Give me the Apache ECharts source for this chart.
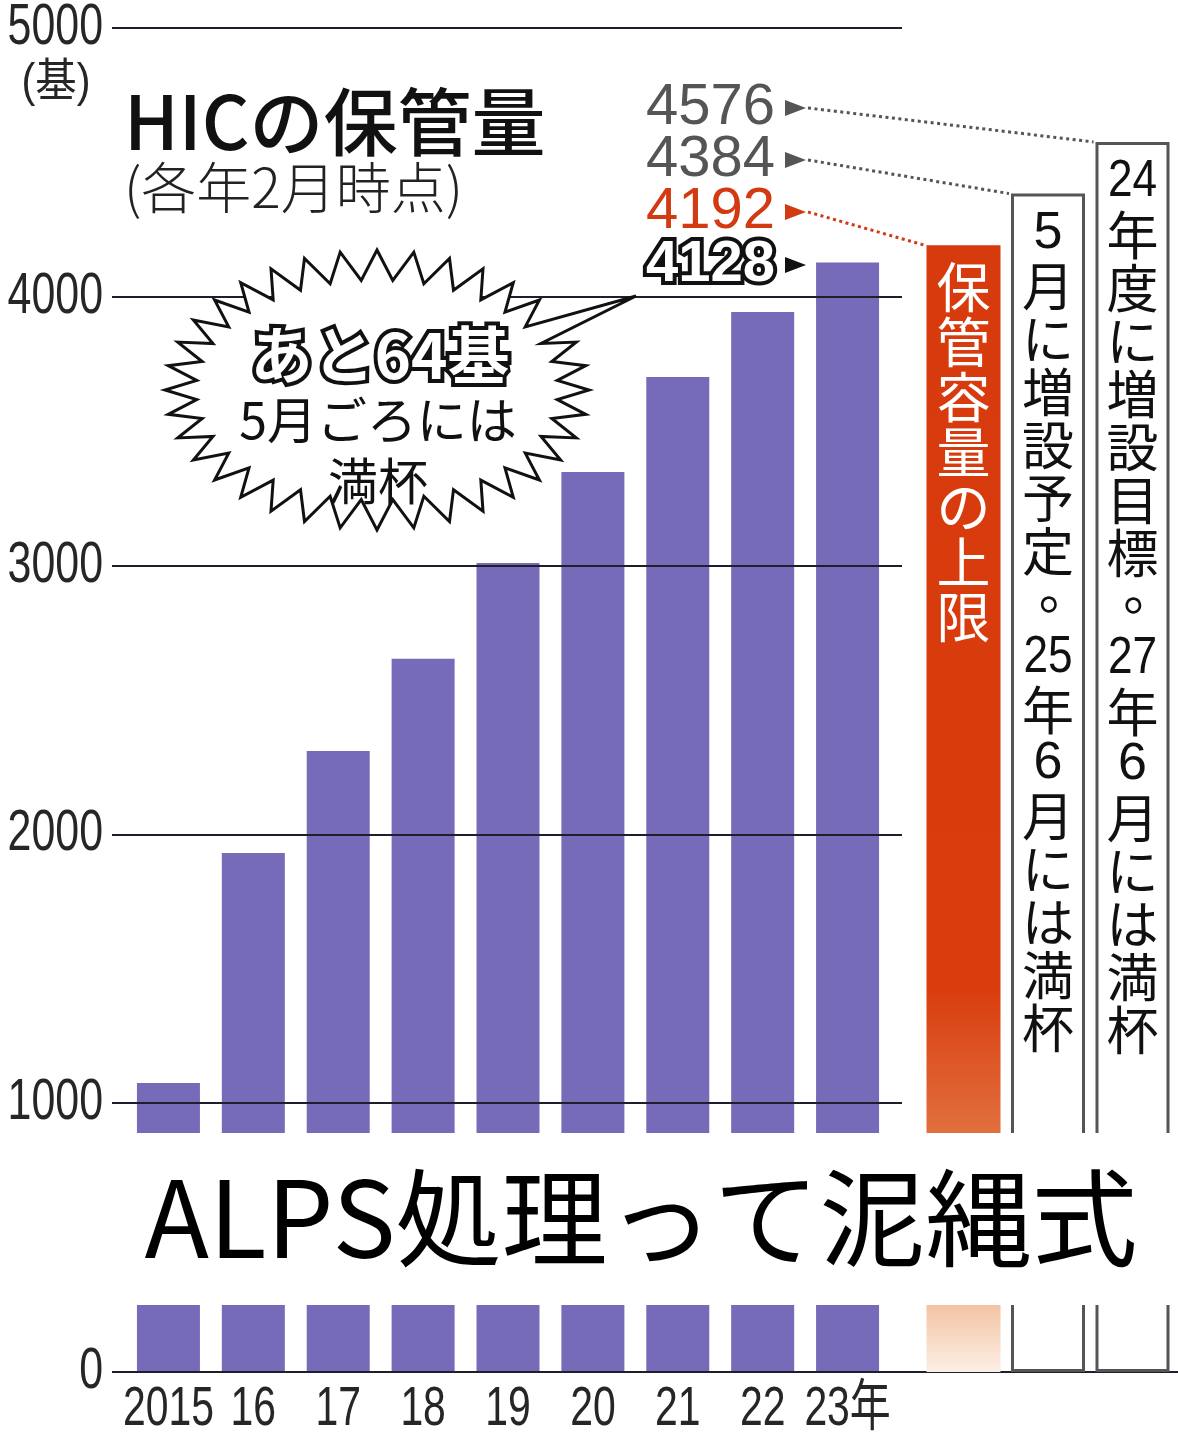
<!DOCTYPE html>
<html>
<head>
<meta charset="utf-8">
<script src="https://cdn.jsdelivr.net/npm/echarts@6/dist/echarts.min.js"></script>
<style>
  html, body { margin: 0; padding: 0; background: #fff; }
  #chart { width: 1178px; height: 1440px; }
</style>
</head>
<body>
<div id="chart"></div>
<script>
// HIC storage volume, as of February each year
const years = ['2015', '16', '17', '18', '19', '20', '21', '22', '23年'];
const stored = [1075, 1931, 2310, 2653, 3010, 3348, 3702, 3943, 4128];

// storage capacity: current limit, planned in May, target for FY2024
const capacityNames = ['保管容量の上限', '5月に増設予定', '24年度に増設目標'];
const capacity = [4192, 4384, 4576];

const yTicks = [0, 1000, 2000, 3000, 4000, 5000];
const yUnit = '(基)';

const titleText = 'HICの保管量';
const subtitleText = '(各年2月時点)';
const bubbleLines = ['あと64基', '5月ごろには', '満杯'];
const bannerText = 'ALPS処理って泥縄式';

// vertical captions inside the capacity columns (one glyph cell per entry)
const capColumns = [
  ['保', '管', '容', '量', 'の', '上', '限'],
  ['5', '月', 'に', '増', '設', '予', '定', '。', '25', '年', '6', '月', 'に', 'は', '満', '杯'],
  ['24', '年', '度', 'に', '増', '設', '目', '標', '。', '27', '年', '6', '月', 'に', 'は', '満', '杯']
];

const NUM_FONT = '"Liberation Sans", "Noto Sans CJK JP", sans-serif';
const JP_FONT = '"Noto Sans CJK JP", sans-serif';
const PURPLE = '#766bb8';
const RED = '#d23a12';
const INK = '#1e1e2c';

const chart = echarts.init(document.getElementById('chart'), null, { renderer: 'canvas' });

const capacityData = capacity.map((v, i) => {
  if (i === 0) {
    return {
      value: v,
      itemStyle: {
        color: new echarts.graphic.LinearGradient(0, 0, 0, 1, [
          { offset: 0, color: '#d73a0c' },
          { offset: 0.66, color: '#d93d0e' },
          { offset: 0.79, color: '#e2703f' },
          { offset: 0.94, color: '#f3c3a3' },
          { offset: 1, color: '#fcefe6' }
        ])
      }
    };
  }
  return { value: v, itemStyle: { color: '#fff', borderColor: '#555', borderWidth: 3 } };
});

const hiddenY = (gi) => ({
  gridIndex: gi, type: 'value', min: 0, max: 5000, show: false
});

chart.setOption({
  animation: false,
  backgroundColor: '#fff',
  grid: [
    { left: 112, top: 28, width: 790, bottom: 68, outerBoundsMode: 'none' },
    { left: 126, top: 28, width: 764, bottom: 68, outerBoundsMode: 'none' },
    { left: 921.25, top: 28, width: 253.5, bottom: 68, outerBoundsMode: 'none' },
    { left: 902, top: 28, right: 0, bottom: 68, outerBoundsMode: 'none' }
  ],
  xAxis: [
    { gridIndex: 0, type: 'value', min: 0, max: 1, show: false },
    {
      gridIndex: 1, type: 'category', data: years,
      axisLine: { show: false }, axisTick: { show: false }, axisLabel: { show: false }
    },
    { gridIndex: 2, type: 'category', data: capacityNames, show: false },
    {
      gridIndex: 3, type: 'value', min: 0, max: 1,
      axisLine: { show: true, lineStyle: { color: INK, width: 2 } },
      axisTick: { show: false }, axisLabel: { show: false }, splitLine: { show: false }
    }
  ],
  yAxis: [
    {
      gridIndex: 0, type: 'value', min: 0, max: 5000, interval: 1000, z: 3,
      axisLine: { show: false }, axisTick: { show: false }, axisLabel: { show: false },
      splitLine: { show: true, lineStyle: { color: INK, width: 2 } }
    },
    hiddenY(1), hiddenY(2), hiddenY(3)
  ],
  series: [
    {
      type: 'bar', xAxisIndex: 1, yAxisIndex: 1, data: stored,
      barWidth: 63, itemStyle: { color: PURPLE }, z: 2
    },
    {
      type: 'bar', xAxisIndex: 2, yAxisIndex: 2, data: capacityData,
      barWidth: 74, z: 2
    }
  ]
});

// ---- annotations placed with the axes' own scales ----
const g = [];
const yPx = (idx, v) => chart.convertToPixel({ yAxisIndex: idx }, v);
const xPx = (idx, name) => chart.convertToPixel({ xAxisIndex: idx }, name);

function txt(x, y, text, font, fill, align, opts) {
  return Object.assign({
    type: 'text', x: x, y: y, z: 10, silent: true,
    style: {
      text: text, font: font, fill: fill,
      align: align || 'center', textAlign: align || 'center',
      verticalAlign: 'middle', textVerticalAlign: 'middle'
    }
  }, opts || {});
}

// outlined (white-filled, black-edged) text: edge layer below, fill layer above
function outlined(x, y, text, font, align, width) {
  return [
    txt(x, y, text, font, '#111', align, {
      style: {
        text: text, font: font, fill: '#111', stroke: '#111',
        lineWidth: width, lineJoin: 'round',
        align: align, textAlign: align, verticalAlign: 'middle', textVerticalAlign: 'middle'
      }
    }),
    txt(x, y, text, font, '#fff', align, { z: 11 })
  ];
}

// y tick labels (condensed numerals)
yTicks.forEach(v => {
  g.push(txt(103, yPx(0, v), String(v), `58px ${NUM_FONT}`, '#262626', 'right', { scaleX: 0.74 }));
});
g.push(txt(56, 83, yUnit, `46px ${NUM_FONT}`, '#262626', 'center', { scaleX: 0.9 }));

// x tick labels
years.forEach(name => {
  g.push(txt(xPx(1, name), 1410, name, `56px ${NUM_FONT}`, '#262626', 'center', { scaleX: 0.73 }));
});

// title
g.push(txt(124, 122, titleText, `500 74px ${JP_FONT}`, '#111', 'left'));
g.push(txt(124, 187, subtitleText, `300 55px ${JP_FONT}`, '#222', 'left'));

// value labels with arrows and dotted leaders
const labelX = 775;
const labelRows = [
  { v: capacity[2], y: 108, color: '#555', target: 2 },
  { v: capacity[1], y: 160, color: '#555', target: 1 },
  { v: capacity[0], y: 212, color: RED, target: 0 }
];
labelRows.forEach(r => {
  g.push(txt(labelX, r.y, String(r.v), `58px ${NUM_FONT}`, r.color, 'right'));
  g.push({
    type: 'polygon', z: 10, silent: true,
    shape: { points: [[785, r.y - 8], [806, r.y], [785, r.y + 8]] },
    style: { fill: r.color }
  });
  const tx = xPx(2, capacityNames[r.target]) - 37;
  const ty = yPx(2, capacity[r.target]);
  g.push({
    type: 'polyline', z: 10, silent: true,
    shape: { points: [[808, r.y], [tx - 2, ty]] },
    style: { stroke: r.color, lineWidth: 3, lineDash: [3, 3.5], fill: null }
  });
});

// latest stored value, pointing at the 2023 bar top
const lastY = 265;
outlined(labelX, lastY, String(stored[stored.length - 1]), `bold 58px ${NUM_FONT}`, 'right', 8)
  .forEach(e => g.push(e));
g.push({
  type: 'polygon', z: 10, silent: true,
  shape: { points: [[785, lastY - 8], [806, lastY], [785, lastY + 8]] },
  style: { fill: '#111' }
});

// jagged speech bubble with its tail towards the 4128 label
function burst(cx, cy, rxo, ryo, rxi, ryi, n, tip) {
  const pts = [];
  for (let k = 0; k < 2 * n; k++) {
    const a = -Math.PI / 2 + k * Math.PI / n;
    const outer = k % 2 === 0;
    pts.push([cx + (outer ? rxo : rxi) * Math.cos(a), cy + (outer ? ryo : ryi) * Math.sin(a)]);
  }
  const ta = Math.atan2((tip[1] - cy) / ryo, (tip[0] - cx) / rxo);
  let best = 0, bd = 1e9;
  for (let k = 0; k < 2 * n; k += 2) {
    const a = -Math.PI / 2 + k * Math.PI / n;
    const d = Math.abs(Math.atan2(Math.sin(a - ta), Math.cos(a - ta)));
    if (d < bd) { bd = d; best = k; }
  }
  pts[best] = tip;
  return pts;
}
g.push({
  type: 'polygon', z: 9, silent: true,
  shape: { points: burst(377, 390, 212, 140, 181, 110, 36, [636, 296]) },
  style: { fill: '#fff', stroke: '#111', lineWidth: 3, lineJoin: 'miter' }
});
outlined(380, 355, bubbleLines[0], `bold 62px ${JP_FONT}`, 'center', 8).forEach(e => g.push(e));
g.push(txt(378, 420, bubbleLines[1], `50px ${JP_FONT}`, '#111'));
g.push(txt(378, 481, bubbleLines[2], `50px ${JP_FONT}`, '#111'));

// vertical captions in the capacity columns
const colStyle = [
  { color: '#fff', size: 54, first: 42, step: 55 },
  { color: '#111', size: 52, first: 40, step: 53 },
  { color: '#111', size: 52, first: 40, step: 53 }
];
capColumns.forEach((cells, i) => {
  const cx = xPx(2, capacityNames[i]);
  const top = yPx(2, capacity[i]);
  const st = colStyle[i];
  cells.forEach((ch, j) => {
    let cy = top + st.first + j * st.step;
    let x = cx;
    // the full stop sits in the middle of the column when set vertically
    if (ch === '。') { x += st.size * 0.32; cy -= st.size * 0.3; }
    const isNum = /^[0-9]+$/.test(ch);
    const font = isNum ? `${st.size}px ${NUM_FONT}` : `${st.size}px ${JP_FONT}`;
    const opts = (isNum && ch.length > 1) ? { scaleX: 0.85 } : {};
    g.push(txt(x, cy, ch, font, st.color, 'center', opts));
  });
});

// caption banner across the lower part of the chart
g.push({
  type: 'rect', z: 20, silent: true,
  shape: { x: 118, y: 1133, width: 1060, height: 172 },
  style: { fill: '#fff' }
});
g.push(txt(641, 1218, bannerText, `106px ${JP_FONT}`, '#000', 'center', { z: 21 }));

chart.setOption({ graphic: { elements: g } });
</script>
</body>
</html>
